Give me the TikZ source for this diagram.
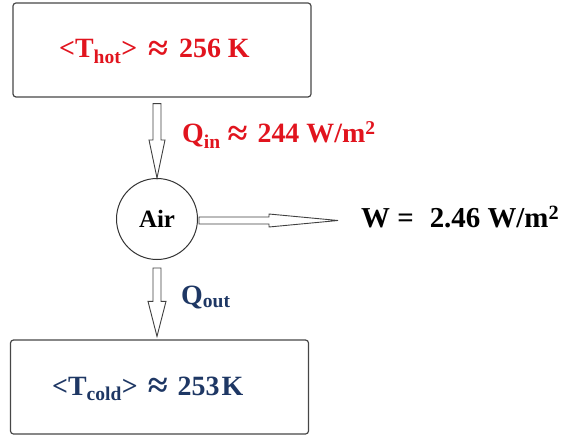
\documentclass[tikz,border=0pt]{standalone}
\usepackage{fontspec}
\usepackage{graphicx}
\setmainfont{Liberation Serif}
\usetikzlibrary{calc}
\definecolor{hotred}{RGB}{225,20,30}
\definecolor{coldblue}{RGB}{30,55,100}
\definecolor{edgegray}{RGB}{70,70,70}
\newcommand{\aprx}{\raisebox{-2.5bp}{\scalebox{1.3}{≈}}}

\begin{document}
\begin{tikzpicture}[x=1bp, y=-1bp,
        tbox/.style={rectangle, draw=edgegray, line width=1.2bp, rounded corners=3bp, minimum width=298bp, minimum height=94bp},
        airc/.style={circle, draw=black!80, line width=1bp, minimum size=81bp, inner sep=0pt, font=\fontsize{25}{28}\selectfont\bfseries},
        lbl/.style={font=\fontsize{28}{32}\selectfont\bfseries, inner sep=0pt, anchor=base west},
        blk/.style={draw=black!75, line width=0.9bp, fill=white}
    ]
        \useasboundingbox (0,0) rectangle (568,436);

        % reservoirs and the air parcel
        \node[tbox] (hot) at (162,50) {};
        \node[lbl, text=hotred] (hotT) at (59,58) {<T\textsubscript{hot}>\hspace{11bp}\aprx\hspace{11bp}256 K};
        \node[airc] (air) at (157,219) {Air};
        \node[tbox] (cold) at (159.5,387) {};
        \node[lbl, text=coldblue] (coldT) at (52,395) {<T\textsubscript{cold}>\hspace{10bp}\aprx\hspace{10bp}253\hspace{2bp}K};

        % fluxes
        \node[lbl, text=hotred] (qin) at (182,143) {Q\textsubscript{in} \aprx\hspace{10bp}244\hspace{7bp}W/m\textsuperscript{2}};
        \node[lbl, font=\fontsize{29}{32}\selectfont\bfseries] (wlab) at (361,228) {W =\hspace{16bp}2.46 W/m\textsuperscript{2}};
        \node[lbl, text=coldblue] (qout) at (181,304) {Q\textsubscript{out}};

        % block arrows
        \draw[blk] let \p1=(hot.south), \p2=(air.north) in
            (\x2-4bp,\y1-6bp) -- (\x2-4bp,\y2+38bp) -- (\x2-8bp,\y2+38bp) -- (\x2,\y2)
            -- (\x2+8bp,\y2+38bp) -- (\x2+4bp,\y2+38bp) -- (\x2+4bp,\y1-6bp) -- cycle;
        \draw[blk] let \p1=(air.south), \p2=(cold.north) in
            (\x1-4bp,\y1-8bp) -- (\x1-4bp,\y2+38bp) -- (\x1-9bp,\y2+38bp) -- (\x1,\y2+3bp)
            -- (\x1+9bp,\y2+38bp) -- (\x1+4bp,\y2+38bp) -- (\x1+4bp,\y1-8bp) -- cycle;
        \draw[blk] let \p1=(air.east), \p2=(wlab.west) in
            (\x1+1bp,\y1+2bp) -- (\x2-92bp,\y1+2bp) -- (\x2-92bp,\y1+5bp) -- (\x2-23bp,\y1-1.5bp)
            -- (\x2-92bp,\y1-8bp) -- (\x2-92bp,\y1-5bp) -- (\x1+1bp,\y1-5bp) -- cycle;
    \end{tikzpicture}
\end{document}
